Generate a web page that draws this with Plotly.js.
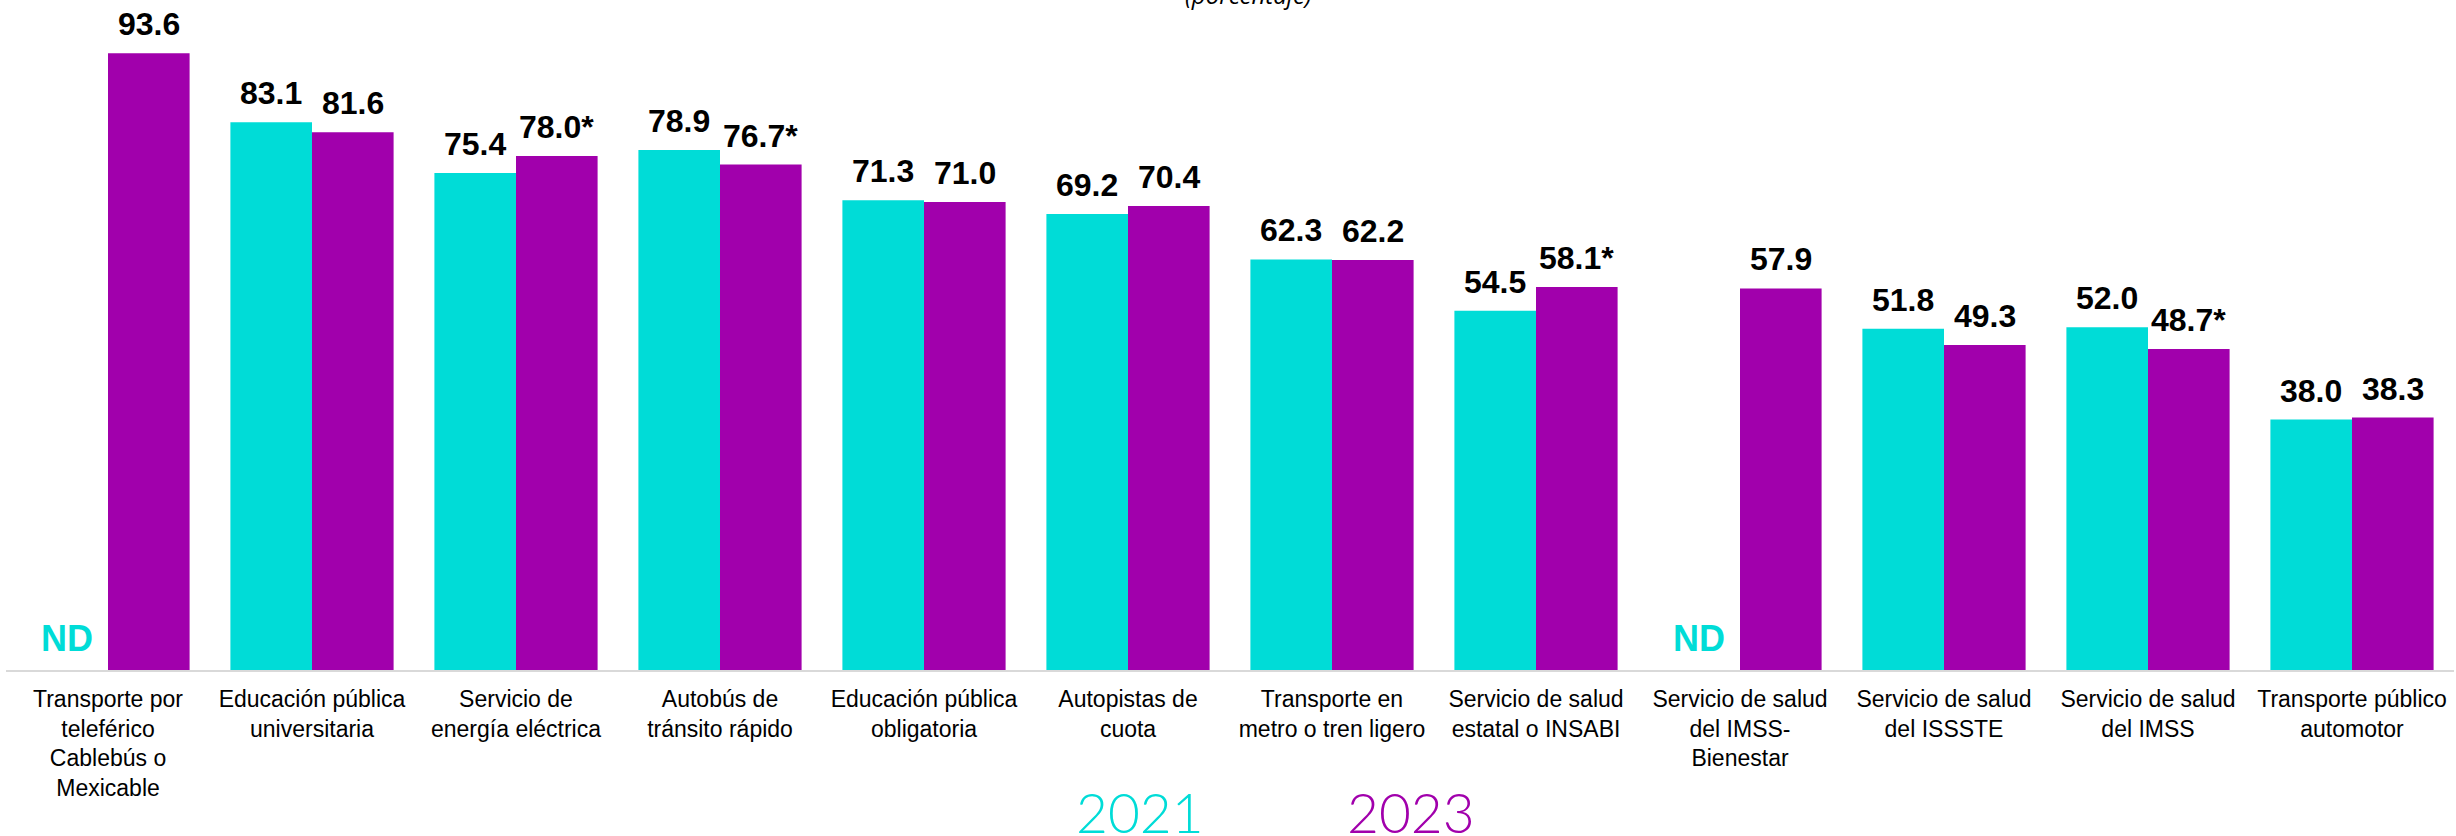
<!DOCTYPE html>
<html>
<head>
<meta charset="utf-8">
<script src="https://cdn.plot.ly/plotly-3.0.1.min.js"></script>
<style>
  html, body { margin: 0; padding: 0; background: #ffffff; }
  #chart { width: 2456px; height: 836px; }
</style>
</head>
<body>
<div id="chart"></div>
<script>
// ---- Data ----
const categories = [
  "Transporte por<br>teleférico<br>Cablebús o<br>Mexicable",
  "Educación pública<br>universitaria",
  "Servicio de<br>energía eléctrica",
  "Autobús de<br>tránsito rápido",
  "Educación pública<br>obligatoria",
  "Autopistas de<br>cuota",
  "Transporte en<br>metro o tren ligero",
  "Servicio de salud<br>estatal o INSABI",
  "Servicio de salud<br>del IMSS-<br>Bienestar",
  "Servicio de salud<br>del ISSSTE",
  "Servicio de salud<br>del IMSS",
  "Transporte público<br>automotor"
];
const values2021 = [null, 83.1, 75.4, 78.9, 71.3, 69.2, 62.3, 54.5, null, 51.8, 52.0, 38.0];
const values2023 = [93.6, 81.6, 78.0, 76.7, 71.0, 70.4, 62.2, 58.1, 57.9, 49.3, 48.7, 38.3];
const significant2021 = [false, false, false, false, false, false, false, false, false, false, false, false];
const significant2023 = [false, false, true, true, false, false, false, true, false, false, true, false];
const seriesNames = ["2021", "2023"];
const missingLabel = "ND";
const subtitle = "(porcentaje)";

// ---- Styles ----
const CYAN = "#00DCD7";
const PURPLE = "#A100AC";
const LABEL_FONT = "Liberation Sans, Arial, sans-serif";
const WIDTH = 2456, HEIGHT = 836;
const MARGIN = { l: 6, r: 2, t: 11, b: 166 };
const BARGAP = 0.2;
const plotW = WIDTH - MARGIN.l - MARGIN.r;
const plotH = HEIGHT - MARGIN.t - MARGIN.b;
const halfBar = (plotW / categories.length) * (1 - BARGAP) / 4; // half of one bar's width

function labelFor(v, sig) {
  return v.toFixed(1) + (sig ? "*" : "");
}

const seriesValues = [values2021, values2023];
const seriesSig = [significant2021, significant2023];
const seriesColors = [CYAN, PURPLE];

const traces = seriesValues.map((vals, s) => ({
  type: "bar",
  name: seriesNames[s],
  x: categories,
  y: vals,
  marker: { color: seriesColors[s], line: { width: 0 } },
  hoverinfo: "skip"
}));

// value labels, placed through the axes at each bar's value
const valueAnnotations = [];
seriesValues.forEach((vals, s) => {
  vals.forEach((v, i) => {
    const missing = v === null;
    valueAnnotations.push({
      xref: "x", yref: "y",
      x: categories[i],
      y: missing ? 0 : v,
      xshift: s === 0 ? -halfBar : halfBar,
      yshift: 9,
      xanchor: "center", yanchor: "bottom",
      showarrow: false,
      text: missing ? missingLabel : labelFor(v, seriesSig[s][i]),
      font: {
        family: LABEL_FONT,
        size: missing ? 36 : 32,
        color: missing ? seriesColors[s] : "#000000",
        weight: "bold"
      }
    });
  });
});

const layout = {
  width: WIDTH,
  height: HEIGHT,
  margin: MARGIN,
  paper_bgcolor: "#ffffff",
  plot_bgcolor: "#ffffff",
  barmode: "group",
  bargap: BARGAP,
  bargroupgap: 0,
  showlegend: false,
  xaxis: {
    type: "category",
    showline: true,
    linecolor: "#d9d9d9",
    linewidth: 2,
    ticks: "",
    showgrid: false,
    tickfont: { family: LABEL_FONT, size: 23, color: "#000000" },
    ticklabelstandoff: 7,
    fixedrange: true
  },
  yaxis: {
    range: [0, 100],
    visible: false,
    showgrid: false,
    zeroline: false,
    fixedrange: true
  },
  annotations: valueAnnotations.concat([
    {
      text: subtitle,
      xref: "paper", yref: "paper",
      x: (1248 - MARGIN.l) / plotW, y: 1,
      yshift: -2,
      xanchor: "center", yanchor: "bottom",
      showarrow: false,
      font: { family: "Open Sans, sans-serif", size: 24, color: "#000000", style: "italic" }
    },
    {
      text: seriesNames[0],
      xref: "paper", yref: "paper",
      x: (1140 - MARGIN.l) / plotW, y: -142 / plotH,
      xanchor: "center", yanchor: "middle",
      showarrow: false,
      font: { family: "Lato, sans-serif", size: 55, color: CYAN, weight: 300 }
    },
    {
      text: seriesNames[1],
      xref: "paper", yref: "paper",
      x: (1411 - MARGIN.l) / plotW, y: -142 / plotH,
      xanchor: "center", yanchor: "middle",
      showarrow: false,
      font: { family: "Lato, sans-serif", size: 55, color: PURPLE, weight: 300 }
    }
  ])
};

Plotly.newPlot("chart", traces, layout, { staticPlot: true, displayModeBar: false });
</script>
</body>
</html>
